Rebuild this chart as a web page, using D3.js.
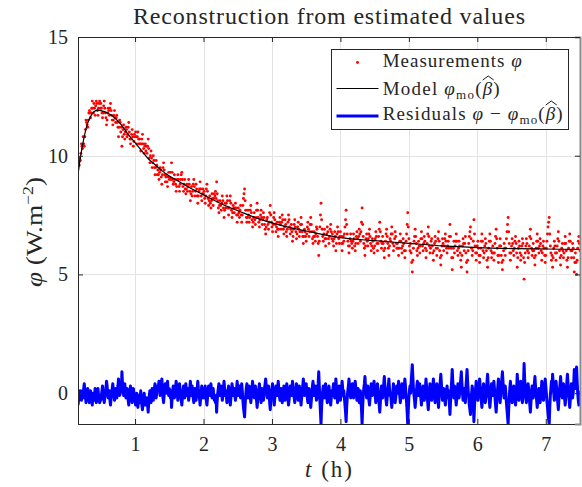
<!DOCTYPE html>
<html><head><meta charset="utf-8">
<script src="https://cdn.jsdelivr.net/npm/d3@7"></script>
<style>
body{margin:0;background:#fff}
text{font-family:"Liberation Serif","Times New Roman",serif;fill:#262626}
</style>
</head><body>
<svg id="chart" width="582" height="487"></svg>
<script>
// ---- data ----
// one sample every half minute, from minute 10 to minute 450
const startMinute = 10, stepMinute = 0.5, sampleCount = 881;
const measurements = [
9.7,9.7,9.6,9.9,9.8,10.1,10.5,10.4,10.3,10.8,10.5,10.4,10.8,11.1,11.5,11.4,11.3,11.2,11.5,11.8,
11.9,11.8,11.6,11.8,12.0,12.3,12.0,11.8,12.2,12.0,11.7,12.1,12.3,12.2,11.9,11.7,12.0,12.2,12.3,12.0,
12.2,12.0,11.8,11.6,11.8,12.1,12.3,12.0,11.8,11.6,11.3,11.5,11.8,12.0,11.9,11.7,12.0,12.2,11.9,11.7,
11.5,11.3,11.5,11.7,11.9,11.6,11.4,11.6,11.7,11.4,11.2,10.8,11.2,11.5,11.4,11.0,11.2,10.4,10.8,11.1,
11.3,10.9,10.7,11.0,11.2,11.1,10.8,10.9,11.2,11.4,11.0,10.7,10.5,10.7,10.9,11.1,10.8,10.4,10.6,10.9,
10.8,11.0,10.8,10.5,10.8,11.0,10.7,10.5,10.7,10.5,10.2,10.5,10.7,10.9,10.5,10.3,10.1,10.4,10.5,10.2,
10.4,10.1,10.4,10.7,10.3,9.9,9.7,10.0,10.2,9.9,9.5,9.7,10.0,9.8,9.5,9.2,9.5,9.8,9.6,9.2,
9.4,9.2,9.0,9.3,9.5,9.4,9.1,8.8,9.2,9.5,9.7,9.4,9.2,8.9,9.1,9.2,8.9,8.7,9.1,9.3,
9.0,9.1,9.3,9.0,9.7,9.3,9.0,8.8,8.9,9.2,9.0,8.8,8.5,8.7,9.0,9.2,9.0,8.7,8.5,8.8,
9.0,9.2,9.3,9.0,8.7,8.5,8.8,9.0,8.6,8.4,8.6,8.8,8.5,8.7,9.0,8.8,8.5,8.1,8.4,8.7,
8.3,8.5,8.8,9.0,8.7,8.3,8.5,8.8,8.6,8.3,8.0,8.3,8.5,8.6,8.9,8.6,8.3,8.1,8.4,8.6,
8.4,8.5,8.2,8.0,8.3,8.6,8.8,8.5,8.2,7.9,8.1,8.3,8.0,7.8,8.1,8.4,8.2,7.9,8.2,8.4,
8.3,8.5,8.2,8.9,8.4,8.1,7.8,7.6,7.9,8.1,7.9,7.7,8.0,8.3,8.1,7.8,7.4,7.7,8.0,7.8,
8.0,8.3,8.1,7.8,7.5,7.8,8.1,8.3,8.0,7.7,7.4,7.6,7.9,7.8,7.6,7.8,8.0,7.8,7.5,7.2,
7.5,7.8,7.6,7.4,7.7,7.9,7.5,7.2,7.5,7.9,8.2,8.4,8.6,8.1,7.7,7.4,7.2,7.4,7.7,7.5,
7.2,7.4,7.7,7.9,7.6,7.3,7.0,7.2,7.4,7.6,7.3,7.1,7.4,7.7,8.0,7.7,7.4,7.2,7.0,7.3,
7.5,7.7,7.4,7.1,7.3,7.6,7.4,7.1,6.9,6.7,7.0,7.3,7.4,7.1,6.9,7.2,7.6,7.9,7.5,7.2,
7.0,6.8,7.1,7.4,7.6,7.3,7.1,6.8,7.0,7.2,6.9,6.6,6.9,7.2,7.4,7.1,6.9,7.2,7.5,7.3,
6.9,6.7,7.0,7.3,7.1,6.8,6.6,6.9,7.2,7.5,7.3,7.0,6.7,6.9,7.1,6.8,6.4,6.6,6.9,7.1,
7.3,7.0,6.8,6.5,6.7,7.0,7.2,6.9,6.6,6.8,7.1,7.4,7.1,6.8,6.6,6.3,6.6,6.9,6.8,6.6,
6.4,6.7,7.0,7.2,6.9,6.6,6.8,7.1,7.4,7.1,6.8,6.5,6.3,6.6,6.8,6.6,6.4,6.7,7.0,6.9,
6.6,6.3,5.8,6.4,7.0,7.5,8.0,7.3,6.9,6.6,6.4,6.7,6.9,6.5,6.2,6.5,6.7,7.0,6.8,6.5,
6.3,6.6,6.9,7.1,6.8,6.5,6.7,6.4,6.2,6.5,6.8,6.6,6.0,6.3,6.7,7.0,6.8,6.5,6.3,6.6,
6.8,6.6,6.3,6.0,6.3,6.6,6.4,6.7,7.0,7.3,7.7,7.1,6.7,6.4,6.2,5.9,6.2,6.5,6.7,6.4,
6.3,6.1,6.4,6.7,6.5,6.2,6.0,6.3,6.6,6.8,6.5,6.3,6.6,6.9,6.7,6.4,6.8,7.2,7.8,7.1,
6.6,6.3,6.1,5.8,6.2,6.5,6.7,6.4,6.2,6.5,6.7,6.9,6.6,6.3,6.0,6.2,6.5,6.4,6.1,5.9,
6.2,6.5,6.8,6.6,6.3,6.0,6.3,6.6,6.9,7.2,6.8,6.4,6.1,6.3,6.6,6.3,6.0,5.7,6.1,6.4,
6.7,6.9,6.6,6.3,6.1,5.8,6.2,6.5,6.4,6.7,7.0,6.7,6.3,6.0,6.2,6.5,6.8,6.6,6.3,6.1,
6.3,6.1,5.8,6.1,6.4,6.7,6.4,6.1,5.9,6.2,6.5,6.3,6.0,5.7,6.0,6.4,6.7,7.1,7.6,7.0,
6.5,6.2,6.0,6.3,5.9,5.5,5.1,5.6,6.1,6.4,6.6,6.9,6.6,6.3,6.0,5.8,6.1,6.4,6.2,5.9,
6.2,6.5,6.8,6.5,6.2,6.0,6.3,6.6,6.4,6.1,5.7,6.0,6.3,6.7,7.0,6.6,6.2,5.9,6.1,6.4,
6.5,6.2,5.9,5.6,6.0,6.3,6.6,6.4,6.1,5.8,6.1,6.5,6.8,6.4,6.0,5.7,5.4,5.8,6.2,6.5,
6.3,6.0,6.2,6.5,6.7,6.4,6.1,5.9,6.2,6.4,6.1,6.6,7.1,6.6,6.1,5.7,5.2,5.7,6.1,6.4,
5.9,6.2,6.4,6.7,6.4,6.0,5.8,6.1,6.4,6.2,5.9,5.6,5.3,5.8,6.2,6.5,6.3,6.0,6.3,6.6,
5.9,5.5,5.1,5.6,6.0,6.3,6.6,6.8,7.0,6.5,6.1,5.8,6.0,6.4,7.3,6.7,6.2,5.9,5.6,5.9,
6.2,6.4,6.1,5.8,5.5,5.8,6.1,6.4,6.7,6.4,6.0,5.7,5.9,6.2,6.5,6.3,6.0,5.6,5.3,5.7,
6.1,6.4,6.7,6.4,6.0,5.7,5.9,6.2,5.9,5.6,5.9,6.3,6.6,6.9,6.5,6.1,5.8,5.5,5.8,6.2,
6.5,6.2,5.8,5.5,5.2,5.6,6.0,6.3,6.1,5.8,6.1,6.5,6.8,7.1,7.4,6.8,6.3,5.9,5.6,5.9,
6.2,6.5,6.3,6.0,5.8,6.1,6.4,6.6,6.3,5.9,5.3,5.7,6.1,6.4,6.2,5.9,5.6,5.8,6.2,6.5,
6.3,5.7,4.8,5.5,5.9,6.2,6.5,6.3,6.0,5.7,5.9,6.2,6.6,6.9,6.5,6.1,5.8,6.0,6.3,6.0,
5.7,5.4,5.8,6.1,6.4,6.7,6.4,6.1,5.9,6.2,6.5,6.3,6.0,5.6,5.9,6.2,6.4,6.1,5.8,5.5,
5.8,6.1,6.4,6.7,7.0,7.2,7.4,6.7,6.2,5.9,5.6,5.8,5.3,5.7,6.1,6.4,6.2,5.9,5.6,5.9,
6.2,6.5,6.8,6.4,6.0,5.7,5.4,5.8,6.1,6.3,6.0,5.7,5.9,6.3,6.6,6.3,6.0,5.6,5.3,5.7,
6.1,6.4,6.7,6.4,6.0,5.7,6.0,6.3,6.1,5.7,5.1,5.5,5.9,5.5,5.0,5.6,6.1,6.4,6.6,6.3,
6.0
];
const residuals = [
-0.5,-0.3,0.0,-0.2,0.1,-0.1,-0.3,-0.1,0.1,-0.2,0.2,0.4,0.1,-0.1,-0.4,-0.2,0.0,0.2,-0.1,-0.3,
-0.4,-0.2,0.1,-0.1,-0.3,-0.5,-0.2,0.0,-0.3,-0.1,0.2,-0.2,-0.4,-0.3,0.0,0.2,-0.1,-0.3,-0.4,-0.1,
-0.3,-0.1,0.1,0.3,0.1,-0.2,-0.4,-0.2,0.0,0.2,0.5,0.3,0.0,-0.2,-0.1,0.1,-0.3,-0.5,-0.2,0.0,
0.2,0.4,0.1,-0.1,-0.3,0.0,0.2,-0.1,-0.2,0.1,0.3,0.6,0.2,-0.1,0.0,0.3,0.1,0.9,0.4,0.1,
-0.1,0.2,0.4,0.1,-0.2,-0.1,0.2,0.0,-0.3,-0.5,-0.2,0.1,0.3,0.1,-0.2,-0.4,-0.1,0.2,0.0,-0.3,
-0.2,-0.5,-0.3,0.0,-0.4,-0.6,-0.3,-0.1,-0.4,-0.2,0.1,-0.3,-0.5,-0.7,-0.4,-0.2,0.0,-0.3,-0.5,-0.2,
-0.4,-0.2,-0.5,-0.8,-0.4,-0.1,0.1,-0.2,-0.4,-0.1,0.2,0.0,-0.3,-0.1,0.2,0.4,0.1,-0.2,0.0,0.3,
0.1,0.3,0.5,0.2,-0.1,0.0,0.3,0.6,0.2,-0.2,-0.4,-0.1,0.1,0.4,0.2,0.0,0.3,0.5,0.1,-0.1,
0.2,0.0,-0.2,0.1,-0.6,-0.2,0.1,0.3,0.1,-0.2,0.0,0.2,0.5,0.3,0.0,-0.3,-0.1,0.2,0.4,0.1,
-0.1,-0.3,-0.5,-0.2,0.1,0.3,0.0,-0.2,0.2,0.4,0.1,-0.1,0.2,0.0,-0.3,-0.1,0.2,0.5,0.2,-0.1,
0.3,0.1,-0.2,-0.4,-0.1,0.2,0.0,-0.3,-0.1,0.2,0.5,0.2,0.0,-0.2,-0.5,-0.2,0.1,0.3,0.0,-0.2,
0.0,-0.2,0.1,0.3,0.0,-0.3,-0.5,-0.2,0.1,0.3,0.1,-0.1,0.2,0.4,0.1,-0.2,0.0,0.2,-0.1,-0.3,
-0.2,-0.4,-0.1,-0.8,-0.3,0.0,0.2,0.4,0.1,-0.1,0.1,0.3,0.0,-0.3,-0.1,0.2,0.5,0.2,-0.1,0.1,
-0.1,-0.4,-0.2,0.1,0.3,0.0,-0.3,-0.5,-0.2,0.1,0.4,0.2,-0.1,0.0,0.2,-0.1,-0.3,-0.1,0.2,0.5,
0.2,-0.1,0.1,0.3,0.0,-0.2,0.1,0.4,0.1,-0.3,-0.6,-0.8,-1.0,-0.5,-0.1,0.2,0.4,0.1,-0.2,0.0,
0.3,0.1,-0.2,-0.4,-0.1,0.2,0.5,0.2,0.0,-0.2,0.1,0.3,0.0,-0.3,-0.6,-0.3,0.0,0.2,0.4,0.1,
-0.2,-0.4,-0.1,0.2,0.0,-0.3,-0.1,0.2,0.4,0.6,0.3,0.0,-0.2,0.1,0.3,0.0,-0.4,-0.7,-0.3,0.0,
0.2,0.4,0.1,-0.2,-0.5,-0.2,0.0,0.3,0.1,-0.1,0.2,0.5,0.2,-0.1,-0.3,0.0,0.2,-0.1,-0.4,-0.2,
0.1,0.3,0.0,-0.3,-0.1,0.2,0.4,0.1,-0.2,-0.5,-0.3,0.0,0.3,0.1,-0.1,0.2,0.5,0.3,0.0,-0.2,
-0.4,-0.1,0.1,0.4,0.2,-0.1,-0.3,0.0,0.3,0.1,-0.2,-0.5,-0.2,0.1,0.3,0.6,0.2,-0.1,0.0,0.2,
0.4,0.1,-0.2,-0.4,-0.1,0.2,0.0,-0.3,-0.6,-0.3,0.0,0.3,0.5,0.2,-0.1,0.1,0.3,0.0,-0.3,-0.2,
0.1,0.4,0.9,0.3,-0.3,-0.8,-1.3,-0.6,-0.2,0.1,0.3,0.0,-0.2,0.2,0.4,0.1,-0.1,-0.4,-0.2,0.1,
0.3,0.0,-0.3,-0.5,-0.2,0.1,-0.1,0.2,0.4,0.1,-0.2,0.0,0.6,0.3,-0.1,-0.4,-0.2,0.1,0.3,0.0,
-0.3,-0.1,0.2,0.5,0.2,-0.1,0.1,-0.2,-0.5,-0.8,-1.2,-0.6,-0.2,0.1,0.3,0.6,0.3,0.0,-0.2,0.1,
0.2,0.4,0.1,-0.2,0.0,0.3,0.5,0.2,-0.1,-0.3,0.0,0.2,-0.1,-0.4,-0.2,0.1,-0.3,-0.7,-1.3,-0.6,
-0.1,0.2,0.4,0.7,0.3,0.0,-0.2,0.1,0.3,0.0,-0.3,-0.5,-0.2,0.1,0.4,0.2,-0.1,0.0,0.3,0.5,
0.2,-0.1,-0.4,-0.2,0.1,0.4,0.1,-0.2,-0.5,-0.8,-0.4,0.0,0.3,0.1,-0.2,0.1,0.4,0.7,0.3,0.0,
-0.3,-0.5,-0.2,0.1,0.3,0.6,0.2,-0.1,0.0,-0.3,-0.6,-0.3,0.1,0.4,0.2,-0.1,-0.4,-0.2,0.1,0.3,
0.0,0.2,0.5,0.2,-0.1,-0.4,-0.1,0.2,0.4,0.1,-0.2,0.0,0.3,0.6,0.3,-0.1,-0.4,-0.8,-1.3,-0.7,
-0.2,0.1,0.3,0.0,0.4,0.8,1.2,0.7,0.2,-0.1,-0.3,-0.6,-0.3,0.0,0.3,0.5,0.2,-0.1,0.1,0.4,
0.1,-0.2,-0.5,-0.2,0.1,0.3,0.0,-0.3,-0.1,0.2,0.6,0.3,0.0,-0.4,-0.7,-0.3,0.1,0.4,0.2,-0.1,
-0.3,0.0,0.3,0.6,0.2,-0.1,-0.4,-0.2,0.1,0.4,0.1,-0.3,-0.6,-0.2,0.2,0.5,0.8,0.4,0.0,-0.3,
-0.1,0.2,0.0,-0.3,-0.5,-0.2,0.1,0.3,0.0,-0.2,0.1,-0.4,-0.9,-0.4,0.1,0.5,1.0,0.5,0.1,-0.2,
0.3,0.0,-0.2,-0.5,-0.2,0.2,0.4,0.1,-0.2,0.0,0.3,0.6,0.9,0.4,0.0,-0.3,-0.1,0.2,-0.1,-0.4,
0.2,0.6,1.0,0.5,0.1,-0.2,-0.5,-0.7,-0.9,-0.4,0.0,0.3,0.1,-0.3,-1.2,-0.6,-0.1,0.2,0.5,0.2,
-0.1,-0.3,0.0,0.3,0.6,0.3,0.0,-0.3,-0.6,-0.3,0.1,0.4,0.2,-0.1,-0.4,-0.2,0.1,0.5,0.8,0.4,
0.0,-0.3,-0.6,-0.3,0.1,0.4,0.2,-0.1,0.2,0.5,0.2,-0.2,-0.5,-0.8,-0.4,0.0,0.3,0.6,0.3,-0.1,
-0.4,-0.1,0.3,0.6,0.9,0.5,0.1,-0.2,0.0,0.3,0.0,-0.4,-0.7,-1.0,-1.3,-0.7,-0.2,0.2,0.5,0.2,
-0.1,-0.4,-0.2,0.1,0.3,0.0,-0.3,-0.5,-0.2,0.2,0.8,0.4,0.0,-0.3,-0.1,0.2,0.5,0.3,-0.1,-0.4,
-0.2,0.4,1.25,0.6,0.2,-0.1,-0.4,-0.2,0.1,0.4,0.2,-0.1,-0.5,-0.8,-0.4,0.0,0.3,0.1,-0.2,0.1,
0.4,0.7,0.3,0.0,-0.3,-0.6,-0.3,0.0,0.2,-0.1,-0.4,-0.2,0.1,0.5,0.2,-0.1,-0.3,0.0,0.3,0.6,
0.3,0.0,-0.3,-0.6,-0.9,-1.1,-1.3,-0.6,-0.1,0.2,0.5,0.3,0.8,0.4,0.0,-0.3,-0.1,0.2,0.5,0.2,
-0.1,-0.4,-0.7,-0.3,0.1,0.4,0.7,0.3,0.0,-0.2,0.1,0.4,0.2,-0.2,-0.5,-0.2,0.1,0.5,0.8,0.4,
0.0,-0.3,-0.6,-0.3,0.1,0.4,0.1,-0.2,0.0,0.4,1.0,0.6,0.2,0.6,1.1,0.5,0.0,-0.3,-0.5,-0.2,
0.1
];
const modelT = [0.1667,0.2,0.25,0.3,0.35,0.4,0.45,0.5,0.6,0.7,0.8,0.9,1.0,1.1,1.2,1.3,1.4,1.5,1.6,1.8,2.0,2.2,2.4,2.6,2.8,3.0,3.25,3.5,4.0,4.5,5.0,5.5,6.0,6.5,7.0,7.5];
const modelY = [9.2,9.9,10.7,11.3,11.65,11.85,11.92,11.9,11.8,11.6,11.3,10.9,10.55,10.2,9.85,9.6,9.35,9.15,8.98,8.65,8.35,8.05,7.8,7.57,7.35,7.17,6.98,6.83,6.55,6.42,6.31,6.2,6.13,6.09,6.07,6.05];
const xTicks = [1,2,3,4,5,6,7];
const yTicks = [0,5,10,15];
const xDomain = [1/6, 7.5];
const yDomain = [-1.3, 15];

// ---- chart ----
const svg = d3.select("#chart");
const L = 78, R = 580, T = 37, B = 424;
const x = d3.scaleLinear().domain(xDomain).range([L, R]);
const y = d3.scaleLinear().domain(yDomain).range([B, T]);
const times = d3.range(sampleCount).map(i => (startMinute + i * stepMinute) / 60);

svg.append("defs").append("clipPath").attr("id","clip")
  .append("rect").attr("x",L).attr("y",T).attr("width",R-L).attr("height",B-T);

// grid
const grid = svg.append("g").attr("stroke","#e3e3e3").attr("stroke-width",1);
xTicks.forEach(t => grid.append("line").attr("x1",Math.round(x(t))+0.5).attr("x2",Math.round(x(t))+0.5).attr("y1",T).attr("y2",B));
yTicks.forEach(t => grid.append("line").attr("y1",Math.round(y(t))+0.5).attr("y2",Math.round(y(t))+0.5).attr("x1",L).attr("x2",R));

const plot = svg.append("g").attr("clip-path","url(#clip)");

// residuals
plot.append("path")
  .datum(residuals.map((r,i)=>[times[i], r]))
  .attr("fill","none").attr("stroke","#0000ff").attr("stroke-width",3).attr("stroke-linejoin","round")
  .attr("d", d3.line().x(d=>x(d[0])).y(d=>y(d[1])));

// measurements
plot.append("g").selectAll("circle").data(measurements).join("circle")
  .attr("cx",(d,i)=>x(times[i])).attr("cy",d=>y(d)).attr("r",1.45).attr("fill","#ff0000");

// model
plot.append("path")
  .datum(modelT.map((t,i)=>[t, modelY[i]]))
  .attr("fill","none").attr("stroke","#000").attr("stroke-width",1.2)
  .attr("d", d3.line().curve(d3.curveMonotoneX).x(d=>x(d[0])).y(d=>y(d[1])));

// axes with inward ticks (MATLAB style)
const axB = svg.append("g").attr("transform",`translate(0,${B})`)
  .call(d3.axisBottom(x).tickValues(xTicks).tickSize(-5).tickPadding(13).tickFormat(d3.format("d")));
const axL = svg.append("g").attr("transform",`translate(${L},0)`)
  .call(d3.axisLeft(y).tickValues(yTicks).tickSize(-5).tickPadding(10).tickFormat(d3.format("d")));
const axT = svg.append("g").attr("transform",`translate(0,${T})`)
  .call(d3.axisTop(x).tickValues(xTicks).tickSize(-5).tickFormat(""));
const axR = svg.append("g").attr("transform",`translate(${R},0)`)
  .call(d3.axisRight(y).tickValues(yTicks).tickSize(-5).tickFormat(""));
[axB,axL,axT,axR].forEach(a=>{
  a.selectAll("path,line").attr("stroke","#262626");
  a.selectAll("text").attr("font-size",20).attr("fill","#262626");
});
axR.select("path").attr("stroke","#8a8a8a").attr("stroke-width",2);

// title
svg.append("text").attr("x",(L+R)/2).attr("y",24).attr("text-anchor","middle")
  .attr("font-size",24).attr("fill","#000").attr("textLength",392).attr("lengthAdjust","spacing")
  .text("Reconstruction from estimated values");

// axis labels
const xl = svg.append("text").attr("x",305).attr("y",477).attr("font-size",23)
  .attr("textLength",47).attr("lengthAdjust","spacing");
xl.append("tspan").attr("font-style","italic").text("t");
xl.append("tspan").text(" (h)");

const yl = svg.append("text").attr("transform","translate(42,232) rotate(-90)").attr("text-anchor","middle")
  .attr("font-size",23).attr("textLength",110).attr("lengthAdjust","spacingAndGlyphs");
yl.append("tspan").attr("font-style","italic").text("φ");
yl.append("tspan").text(" (W.m");
yl.append("tspan").attr("font-size",15).attr("dy",-9).text("−2");
yl.append("tspan").attr("dy",9).text(")");

// legend
const lg = svg.append("g");
lg.append("rect").attr("x",331.5).attr("y",49.5).attr("width",237).attr("height",80)
  .attr("fill","#fff").attr("stroke","#262626").attr("stroke-width",1);
lg.append("circle").attr("cx",357.5).attr("cy",62.5).attr("r",1.45).attr("fill","#ff0000");
lg.append("line").attr("x1",336.5).attr("x2",378.5).attr("y1",88.5).attr("y2",88.5).attr("stroke","#000").attr("stroke-width",1.2);
lg.append("line").attr("x1",336.5).attr("x2",378.5).attr("y1",116).attr("y2",116).attr("stroke","#0000ff").attr("stroke-width",3);

function entry(yb, width, parts){
  const t = lg.append("text").attr("x",382.7).attr("y",yb).attr("font-size",19).attr("fill","#000")
    .attr("textLength",width).attr("lengthAdjust","spacing");
  parts.forEach(p=>{
    const s = t.append("tspan").text(p.s);
    if (p.it) s.attr("font-style","italic");
    if (p.fs) s.attr("font-size",p.fs);
    if (p.dy) s.attr("dy",p.dy);
    if (p.hat) s.classed("hat", true);
  });
  // wide hat over beta
  t.selectAll("tspan.hat").each(function(){
    const bb = this.getBBox();
    const x0 = bb.x + 1, x1 = bb.x + bb.width + 1, top = yb - 16;
    lg.append("path").attr("d",`M${x0},${top+1} L${(x0+x1)/2},${top-3} L${x1},${top+1}`)
      .attr("fill","none").attr("stroke","#000").attr("stroke-width",0.9);
  });
}
entry(67.3,139,[{s:"Measurements "},{s:"φ",it:1}]);
entry(95,117,[{s:"Model "},{s:"φ",it:1},{s:"mo",fs:13,dy:4},{s:"(",dy:-4},{s:"β",it:1,hat:1},{s:")"}]);
entry(120,180,[{s:"Residuals "},{s:"φ",it:1},{s:" − "},{s:"φ",it:1},{s:"mo",fs:13,dy:4},{s:"(",dy:-4},{s:"β",it:1,hat:1},{s:")"}]);
</script>
</body></html>
